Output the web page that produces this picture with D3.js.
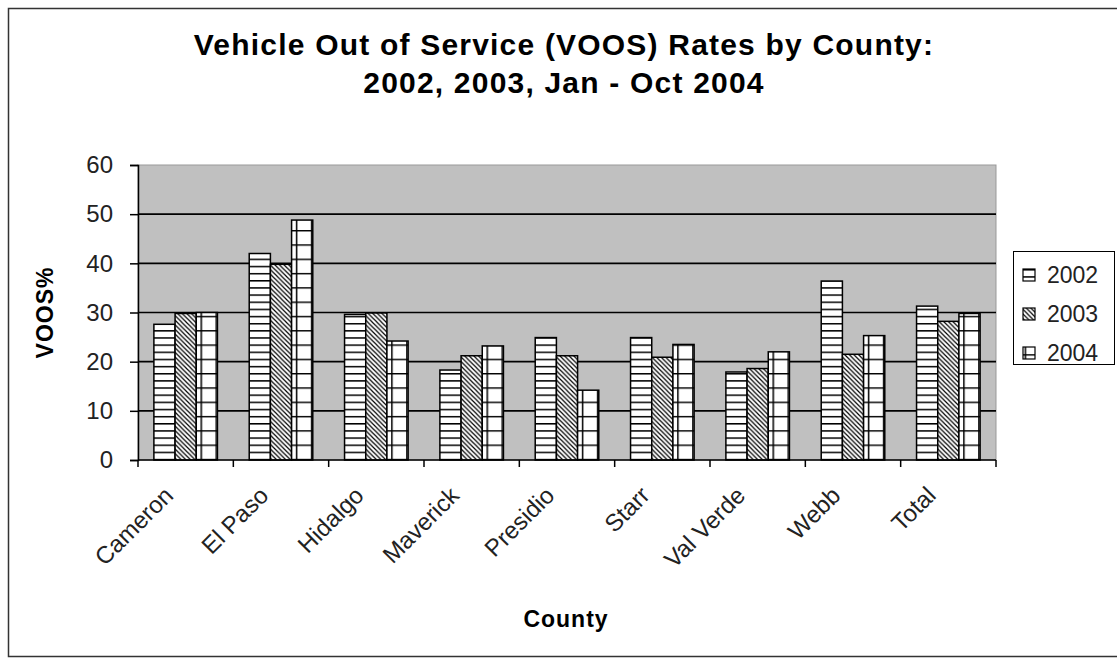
<!DOCTYPE html>
<html>
<head>
<meta charset="utf-8">
<script src="https://cdn.jsdelivr.net/npm/d3@7"></script>
<style>
  body { margin: 0; background: #fff; }
  svg { display: block; font-family: Arial, "Liberation Sans", sans-serif; }
</style>
</head>
<body>
<svg width="1117" height="659"></svg>
<script>
var counties = ["Cameron", "El Paso", "Hidalgo", "Maverick", "Presidio", "Starr", "Val Verde", "Webb", "Total"];
var years = ["2002", "2003", "2004"];
var v2002 = [27.6, 42.0, 29.6, 18.3, 24.9, 24.9, 17.9, 36.4, 31.3];
var v2003 = [29.8, 39.8, 29.9, 21.2, 21.2, 20.9, 18.6, 21.5, 28.2];
var v2004 = [30.0, 48.8, 24.2, 23.2, 14.2, 23.5, 22.0, 25.3, 29.8];
var yTicks = [0, 10, 20, 30, 40, 50, 60];

var series = [v2002, v2003, v2004];

var svg = d3.select("svg"),
    plot = {left: 138, right: 996, top: 165, bottom: 460};

// hatch patterns, like the old excel b/w fills
var defs = svg.append("defs");
var p0 = defs.append("pattern").attr("id", "pat2002").attr("patternUnits", "userSpaceOnUse")
    .attr("y", 1.2).attr("width", 8).attr("height", 7.15);
p0.append("rect").attr("width", 8).attr("height", 7.15).attr("fill", "#fff");
p0.append("line").attr("x1", 0).attr("x2", 8).attr("y1", 0.75).attr("y2", 0.75)
    .attr("stroke", "#000").attr("stroke-width", 1.5);

var p1 = defs.append("pattern").attr("id", "pat2003").attr("patternUnits", "userSpaceOnUse")
    .attr("width", 4.6).attr("height", 4.6);
p1.append("rect").attr("width", 4.6).attr("height", 4.6).attr("fill", "#fff");
p1.append("path").attr("d", "M-1,-1L5.6,5.6M-1,3.6L1,5.6M3.6,-1L5.6,1")
    .attr("stroke", "#000").attr("stroke-width", 1.2);

var p2 = defs.append("pattern").attr("id", "pat2004").attr("patternUnits", "userSpaceOnUse")
    .attr("x", 1.6).attr("y", 1.2).attr("width", 15).attr("height", 14.3);
p2.append("rect").attr("width", 15).attr("height", 14.3).attr("fill", "#fff");
p2.append("path").attr("d", "M0,0.75H15M0.75,0V14.3")
    .attr("stroke", "#000").attr("stroke-width", 1.5);

// outer frame
svg.append("rect").attr("x", 8.5).attr("y", 8.5).attr("width", 1115).attr("height", 648)
    .attr("fill", "none").attr("stroke", "#333").attr("stroke-width", 1.5);

var x0 = d3.scaleBand().domain(counties)
    .range([plot.left, plot.right])
    .paddingInner(1/3).paddingOuter(1/6);
var x1 = d3.scaleBand().domain(years).range([0, x0.bandwidth()]);
var y = d3.scaleLinear().domain([0, 60]).range([plot.bottom, plot.top]);

svg.append("rect").attr("x", plot.left).attr("y", plot.top)
    .attr("width", plot.right - plot.left).attr("height", plot.bottom - plot.top)
    .attr("fill", "#c0c0c0").attr("stroke", "#999").attr("stroke-width", 1);

// gridlines
svg.append("g").selectAll("line")
    .data(yTicks.filter(function(d) { return d > 0 && d < 60; }))
    .enter().append("line")
    .attr("x1", plot.left).attr("x2", plot.right)
    .attr("y1", function(d) { return y(d); }).attr("y2", function(d) { return y(d); })
    .attr("stroke", "#000").attr("stroke-width", 1.6);

// bars
var groups = svg.append("g").selectAll("g")
    .data(counties).enter().append("g")
    .attr("transform", function(d) { return "translate(" + x0(d) + ",0)"; });

groups.selectAll("rect")
    .data(function(d, i) { return years.map(function(yr, j) { return {year: yr, value: series[j][i]}; }); })
    .enter().append("rect")
    .attr("x", function(d) { return x1(d.year); })
    .attr("y", function(d) { return y(d.value); })
    .attr("width", x1.bandwidth())
    .attr("height", function(d) { return y(0) - y(d.value); })
    .attr("fill", function(d) { return "url(#pat" + d.year + ")"; })
    .attr("stroke", "#000").attr("stroke-width", 1.5);

// y axis
var yAxis = svg.append("g")
    .attr("transform", "translate(" + plot.left + ",0)")
    .call(d3.axisLeft(y).tickValues(yTicks).tickSize(8).tickPadding(17));
yAxis.select(".domain").attr("stroke", "#000").attr("stroke-width", 1.5);
yAxis.selectAll(".tick line").attr("stroke", "#000").attr("stroke-width", 1.5);
yAxis.selectAll("text").attr("font-size", 24).attr("fill", "#222")
    .attr("font-family", "Arial, 'Liberation Sans', sans-serif");

// x axis: ticks sit between categories
var step = x0.step();
var bounds = counties.map(function(c) { return x0(c) - step * x0.paddingInner() / 2; });
bounds.push(plot.right);
var xg = svg.append("g");
xg.append("line").attr("x1", plot.left).attr("x2", plot.right)
    .attr("y1", plot.bottom).attr("y2", plot.bottom)
    .attr("stroke", "#000").attr("stroke-width", 1.5);
xg.selectAll(".tk").data(bounds).enter().append("line")
    .attr("x1", function(d) { return d; }).attr("x2", function(d) { return d; })
    .attr("y1", plot.bottom).attr("y2", plot.bottom + 7)
    .attr("stroke", "#000").attr("stroke-width", 1.5);
xg.selectAll("text").data(counties).enter().append("text")
    .attr("transform", function(d) {
      return "translate(" + (x0(d) + x0.bandwidth() / 2 - 17) + "," + (plot.bottom + 31) + ") rotate(-45)";
    })
    .attr("text-anchor", "end")
    .attr("dy", "0.35em")
    .attr("font-size", 24).attr("fill", "#222")
    .text(function(d) { return d; });

// titles
svg.append("text").attr("x", 564).attr("y", 55).attr("text-anchor", "middle")
    .attr("font-size", 30).attr("font-weight", "bold").attr("letter-spacing", 1.2)
    .text("Vehicle Out of Service (VOOS) Rates by County:");
svg.append("text").attr("x", 564).attr("y", 93).attr("text-anchor", "middle")
    .attr("font-size", 30).attr("font-weight", "bold").attr("letter-spacing", 1.2)
    .text("2002, 2003, Jan - Oct 2004");

svg.append("text").attr("transform", "translate(53," + ((plot.top + plot.bottom) / 2) + ") rotate(-90)")
    .attr("text-anchor", "middle").attr("font-size", 23).attr("font-weight", "bold")
    .attr("letter-spacing", 1)
    .text("VOOS%");
svg.append("text").attr("x", 566).attr("y", 627).attr("text-anchor", "middle")
    .attr("font-size", 23).attr("font-weight", "bold").attr("letter-spacing", 1)
    .text("County");

// legend
var legend = svg.append("g");
legend.append("rect").attr("x", 1013.5).attr("y", 251.5).attr("width", 101).attr("height", 113)
    .attr("fill", "#fff").attr("stroke", "#000").attr("stroke-width", 1);
var li = legend.selectAll(".li").data(years).enter().append("g")
    .attr("transform", function(d, i) { return "translate(1023," + (275 + i * 39) + ")"; });
li.append("rect").attr("x", 0).attr("y", -6).attr("width", 12).attr("height", 12)
    .attr("fill", function(d) { return "url(#pat" + d + ")"; })
    .attr("stroke", "#000").attr("stroke-width", 1.2);
li.append("text").attr("x", 24).attr("dy", "0.35em")
    .attr("font-size", 23).attr("fill", "#222")
    .text(function(d) { return d; });
</script>
</body>
</html>
